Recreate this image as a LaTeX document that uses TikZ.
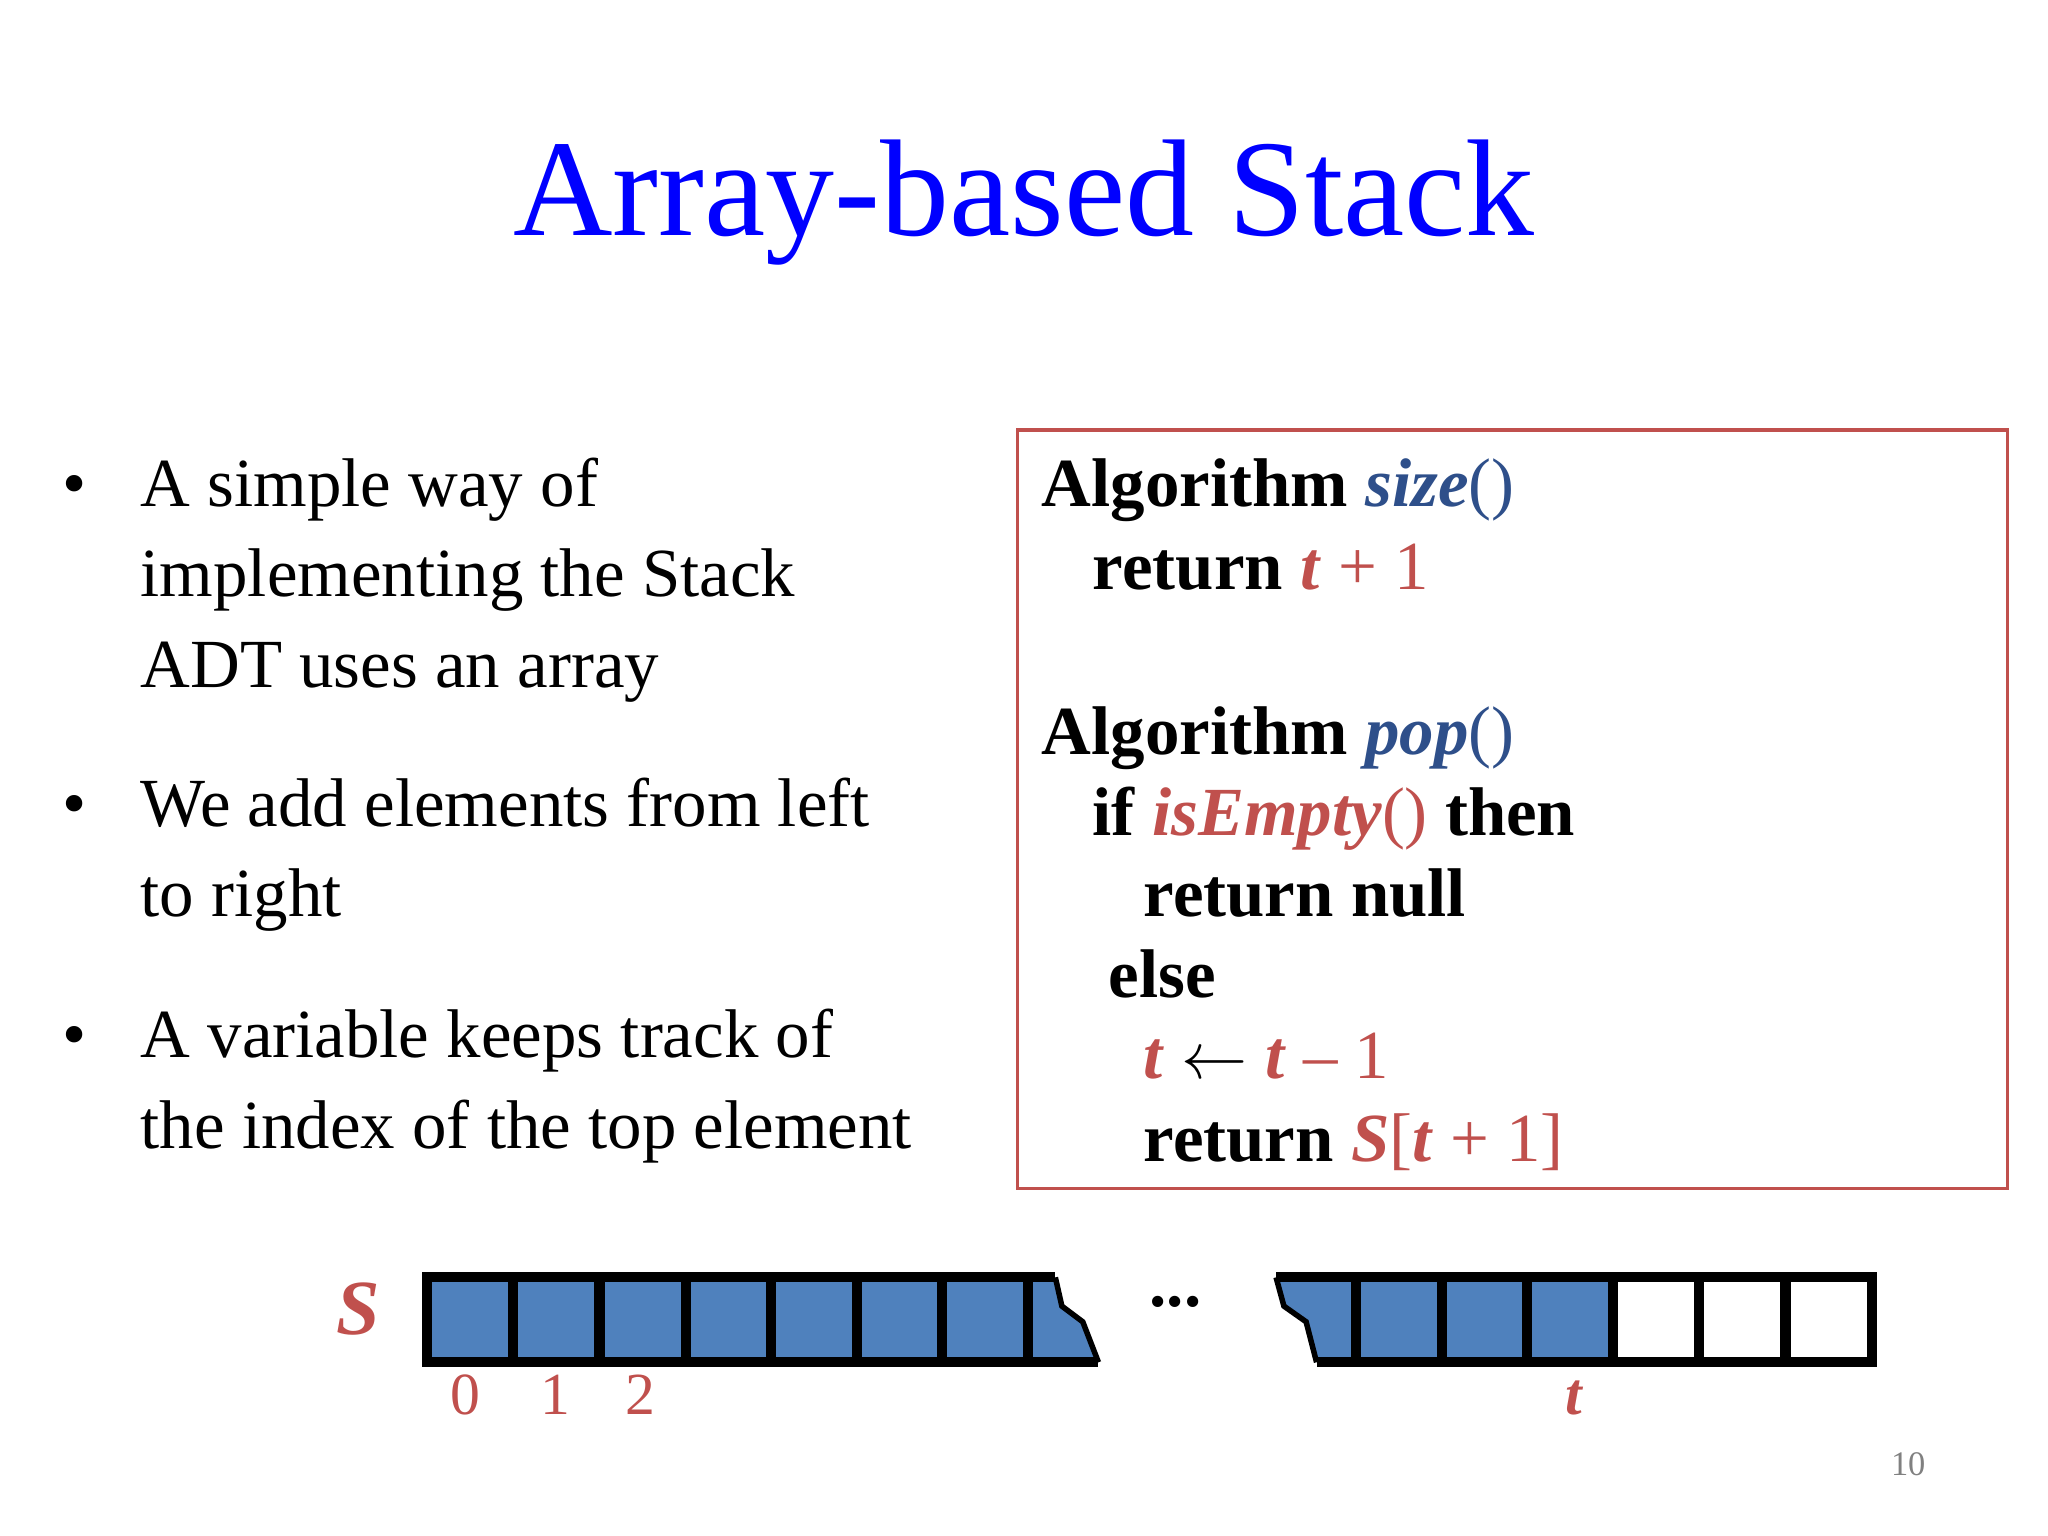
\documentclass[tikz,border=0pt]{standalone}
\usepackage{fontspec}
\setmainfont{Liberation Serif}
\definecolor{rd}{HTML}{C0504D}
\definecolor{fn}{HTML}{2E4F8A}
\definecolor{cellblue}{HTML}{4F81BD}
\begin{document}
\begin{tikzpicture}[x=0.01cm,y=-0.01cm,
  txt/.style={anchor=base west,inner sep=0,font=\fontsize{15}{18}\selectfont},
  code/.style={anchor=base west,inner sep=0,font=\fontsize{15}{18}\selectfont\bfseries},
  idx/.style={anchor=base,inner sep=0,text=rd,font=\fontsize{13}{15}\selectfont},
  cell/.style={line width=2.2pt,draw=black}]
\useasboundingbox (0,0) rectangle (1568,1176);
\node[anchor=base,inner sep=0,text=blue,font=\fontsize{30}{36}\selectfont] (title) at (784,180) {Array-based Stack};
% bullets
\foreach \y/\n in {388/b1,633/b2,810/b3}{\node[txt] (\n) at (47,\y) {•};}
\node[txt] (l1) at (107,388) {A simple way of};
\node[txt] (l2) at (107,457) {implementing the Stack};
\node[txt] (l3) at (107,526) {ADT uses an array};
\node[txt] (l4) at (107,633) {We add elements from left};
\node[txt] (l5) at (107,702) {to right};
\node[txt] (l6) at (107,810) {A variable keeps track of};
\node[txt] (l7) at (107,879) {the index of the top element};
% code box
\draw[rd,line width=0.8pt] (779,329) rectangle (1537,910);
\node[code] (c1) at (797,388) {Algorithm \textcolor{fn}{\textit{size}}\textcolor{fn}{\mdseries()}};
\node[code] (c2) at (836,451) {return \textcolor{rd}{\textit{t}\mdseries\ + 1}};
\node[code] (c3) at (797,578) {Algorithm \textcolor{fn}{\textit{pop}}\textcolor{fn}{\mdseries()}};
\node[code] (c4) at (836,640) {if \textcolor{rd}{\textit{isEmpty}\mdseries()} then};
\node[code] (c5) at (875,702) {return null};
\node[code] (c6) at (848,764) {else};
\node[code] (c7) at (875,826) {\textcolor{rd}{\textit{t}} \mdseries$\leftarrow$ \textcolor{rd}{\bfseries\textit{t}\mdseries\ – 1}};
\node[code] (c8) at (875,889) {return \textcolor{rd}{\textit{S}\mdseries[\bfseries\textit{t}\mdseries\ + 1]}};
% array
\fill[cellblue] (327,978) -- (808,978) -- (813,1000) -- (829,1012) -- (841,1043) -- (327,1043) -- cycle;
\fill[cellblue] (977,978) -- (1235,978) -- (1235,1043) -- (1008,1043) -- (1000,1012) -- (983,1000) -- cycle;
\draw[cell] (808,978) -- (327,978) -- (327,1043) -- (841,1043);
\draw[cell,line width=1.2pt] (808,978) -- (813,1000) -- (829,1012) -- (841,1043);
\foreach \x in {393,459,525,590,656,721,787} \draw[cell] (\x,978) -- (\x,1043);
\draw[cell] (977,978) -- (1433,978) -- (1433,1043) -- (1008,1043);
\draw[cell,line width=1.2pt] (977,978) -- (983,1000) -- (1000,1012) -- (1008,1043);
\foreach \x in {1038,1104,1169,1235,1301,1367} \draw[cell] (\x,978) -- (\x,1043);
\node[anchor=base,inner sep=0,font=\fontsize{15}{18}\selectfont\bfseries] (dots) at (900,1000) {...};
\node[anchor=base,inner sep=0,text=rd,font=\fontsize{17}{20}\selectfont\bfseries\itshape] (S) at (274,1022) {S};
\node[idx] (i0) at (356,1083) {0};
\node[idx] (i1) at (425,1083) {1};
\node[idx] (i2) at (490,1083) {2};
\node[idx,font=\fontsize{13}{15}\selectfont\bfseries\itshape] (it) at (1205,1083) {t};
\node[anchor=base,inner sep=0,text=gray,font=\fontsize{7.5}{9}\selectfont] (pg) at (1461,1130) {10};
\end{tikzpicture}
\end{document}
